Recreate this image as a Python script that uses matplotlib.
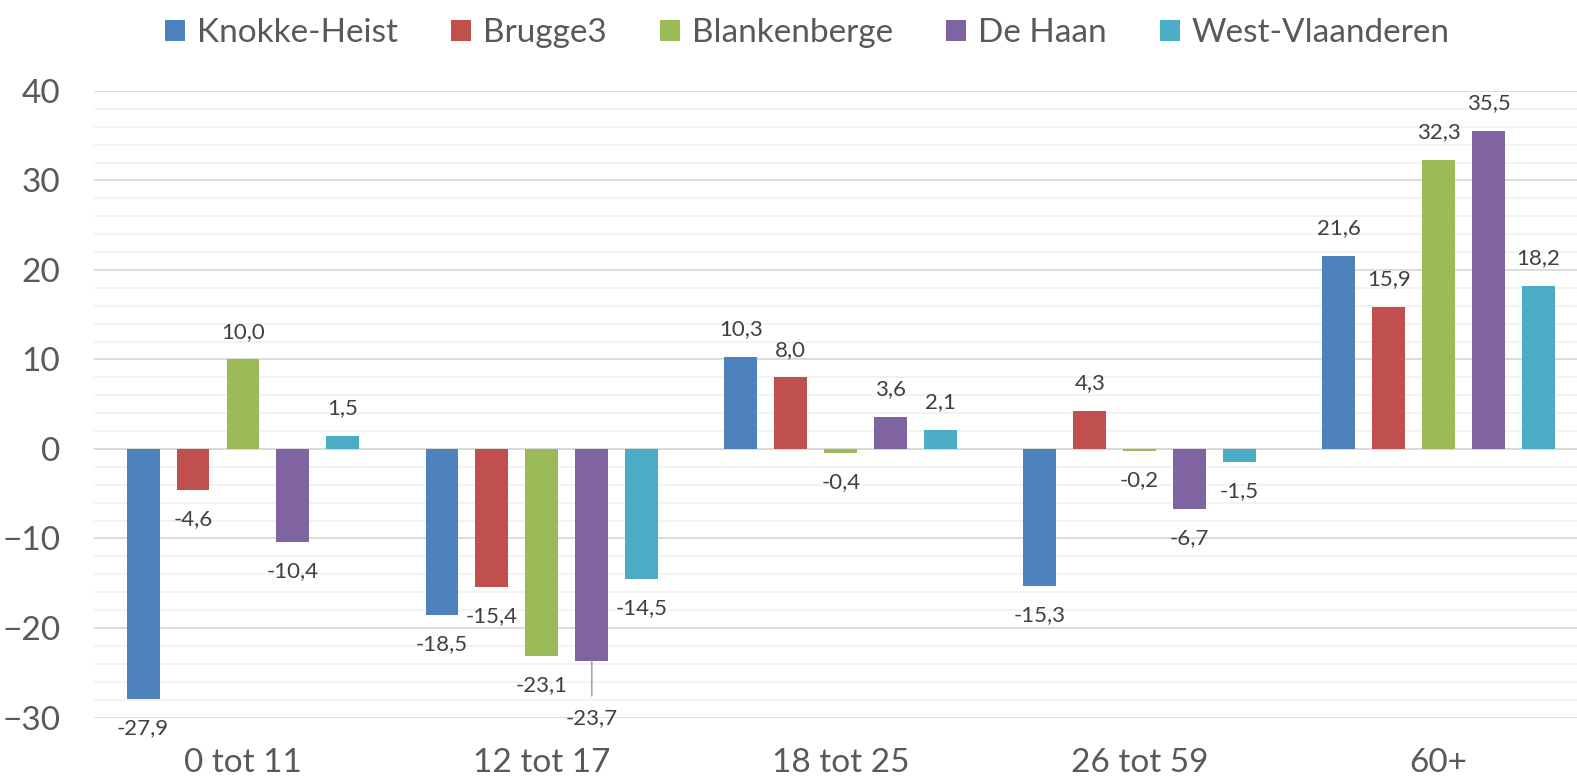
import numpy as np
import matplotlib
matplotlib.use("Agg")
import matplotlib.pyplot as plt
from matplotlib.ticker import MultipleLocator

categories = ["0 tot 11", "12 tot 17", "18 tot 25", "26 tot 59", "60+"]
series_names = ["Knokke-Heist", "Brugge3", "Blankenberge", "De Haan", "West-Vlaanderen"]
knokke_heist = [-27.9, -18.5, 10.3, -15.3, 21.6]
brugge3 = [-4.6, -15.4, 8.0, 4.3, 15.9]
blankenberge = [10.0, -23.1, -0.4, -0.2, 32.3]
de_haan = [-10.4, -23.7, 3.6, -6.7, 35.5]
west_vlaanderen = [1.5, -14.5, 2.1, -1.5, 18.2]
colors = ["#4F81BD", "#C0504D", "#9BBB59", "#8064A2", "#4BACC6"]

all_series = [knokke_heist, brugge3, blankenberge, de_haan, west_vlaanderen]

plt.rcParams['font.family'] = ['Lato', 'DejaVu Sans']

W, H = 1577, 784
fig = plt.figure(figsize=(W / 100, H / 100), dpi=100)
ax_left, ax_right = 93.5, 1588
ax_top, ax_bot = 91, 717.5
ax = fig.add_axes([ax_left / W, 1 - ax_bot / H, (ax_right - ax_left) / W, (ax_bot - ax_top) / H])

x = np.arange(len(categories))
step = 0.167
width = 0.110

for i, (name, vals) in enumerate(zip(series_names, all_series)):
    pos = x + (i - 2) * step
    ax.bar(pos, vals, width, color=colors[i], label=name, zorder=3)
    for px, v in zip(pos, vals):
        txt = f"{v:.1f}".replace(".", ",")
        off = 20 if v >= 0 else -21
        # the De Haan bar in "12 tot 17" gets its label pushed down with a leader line
        if name == "De Haan" and v < -20:
            off = -41
            ax.annotate("", xy=(px, v), xytext=(0, -25), textcoords="offset points",
                        xycoords="data",
                        arrowprops=dict(arrowstyle="-", color="#A6A6A6", lw=1.2,
                                        shrinkA=0, shrinkB=0))
        ax.annotate(txt, (px, v), xytext=(0, off), textcoords="offset points",
                    ha="center", va="center", fontsize=16, color="#404040", zorder=4)

ax.set_xlim(-0.5, 4.5)
ax.set_ylim(-30, 40)
ax.yaxis.set_major_locator(MultipleLocator(10))
ax.yaxis.set_minor_locator(MultipleLocator(2))
ax.grid(which="major", axis="y", color="#D9D9D9", lw=1.3, zorder=0)
ax.grid(which="minor", axis="y", color="#F2F2F2", lw=1.3, zorder=0)
ax.axhline(0, color="#D9D9D9", lw=1.3, zorder=2)
for s in ax.spines.values():
    s.set_visible(False)
ax.set_xticks(x)
ax.set_xticklabels(categories)
ax.tick_params(axis="x", length=0, pad=22, labelsize=24, labelcolor="#595959")
ax.tick_params(axis="y", which="both", length=0, pad=24, labelsize=24, labelcolor="#595959")

fig.legend(loc="upper center", bbox_to_anchor=(0.512, 1.015), ncol=5, frameon=False,
           fontsize=24, labelcolor="#595959", handlelength=0.6, handleheight=0.6,
           handletextpad=0.35, columnspacing=1.6)

fig.savefig("out.png", dpi=100)
